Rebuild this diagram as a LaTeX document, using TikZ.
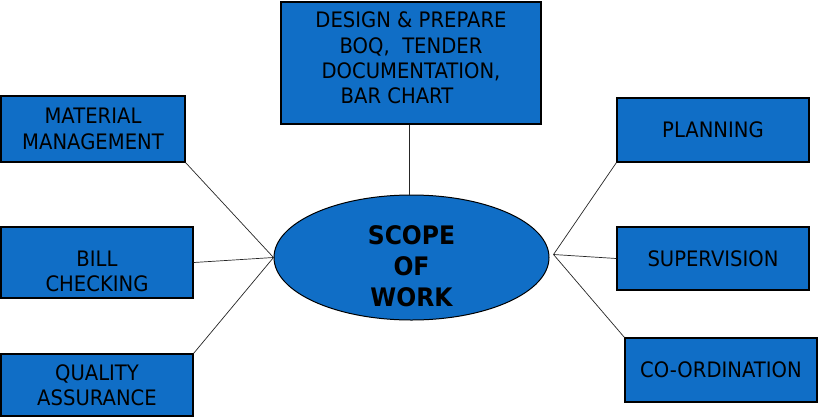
\documentclass[tikz,border=0pt]{standalone}
\usepackage{fontspec}
\setmainfont{DejaVu Sans}[FakeStretch=0.92]
\usetikzlibrary{shapes.geometric}
\definecolor{boxblue}{RGB}{16,110,198}
\begin{document}
\begin{tikzpicture}[x=1pt,y=-1pt,
  box/.style={draw=black, line width=1.2pt, fill=boxblue, rectangle, inner sep=0pt},
  lbl/.style={font=\fontsize{21.3}{25.3}\selectfont, align=center, text=black, inner sep=0pt},
  biglbl/.style={font=\bfseries\fontsize{25.5}{31}\selectfont, align=center, text=black, inner sep=0pt},
  conn/.style={draw=black!85, line width=0.7pt}]
\useasboundingbox (0,0) rectangle (819,418);

\node[box, minimum width=260pt, minimum height=122pt,
  label={[lbl, yshift=5pt, name=designtxt]center:{DESIGN \& PREPARE\\BOQ,\ \ TENDER\\DOCUMENTATION,\\BAR CHART\hspace*{28pt}}}]
  (design) at (411,63) {};
\node[box, minimum width=184pt, minimum height=66pt,
  label={[lbl, name=materialtxt]center:{MATERIAL\\MANAGEMENT}}]
  (material) at (93,129) {};
\node[box, minimum width=192pt, minimum height=71pt,
  label={[lbl, yshift=-9pt, name=billtxt]center:{BILL\\CHECKING}}]
  (bill) at (97,262.5) {};
\node[box, minimum width=192pt, minimum height=62pt,
  label={[lbl, name=qualitytxt]center:{QUALITY\\ASSURANCE}}]
  (quality) at (97,385) {};
\node[box, minimum width=192pt, minimum height=64pt,
  label={[lbl, name=planningtxt]center:{PLANNING}}]
  (planning) at (713,130) {};
\node[box, minimum width=192pt, minimum height=63pt,
  label={[lbl, name=supervisiontxt]center:{SUPERVISION}}]
  (supervision) at (713,258.5) {};
\node[box, minimum width=192pt, minimum height=64pt,
  label={[lbl, name=coordtxt]center:{CO-ORDINATION}}]
  (coord) at (721,370) {};

\node[draw=black, line width=1pt, fill=boxblue, ellipse, inner sep=0pt,
  minimum width=275pt, minimum height=125pt,
  label={[biglbl, yshift=-9pt, name=scopetxt]center:{SCOPE\\OF\\WORK}}]
  (scope) at (411.5,257.5) {};

\coordinate (er) at ([shift={(4,-3)}]scope.east);

\draw[conn] (design.south -| 409,0) -- (scope.north -| 409,0);
\draw[conn] (material.south east) -- (scope.west);
\draw[conn] (bill.east) -- (scope.west);
\draw[conn] (quality.north east) -- (scope.west);
\draw[conn] (planning.south west) -- (er);
\draw[conn] (supervision.west) -- (er);
\draw[conn] (coord.north west) -- (er);
\end{tikzpicture}
\end{document}
